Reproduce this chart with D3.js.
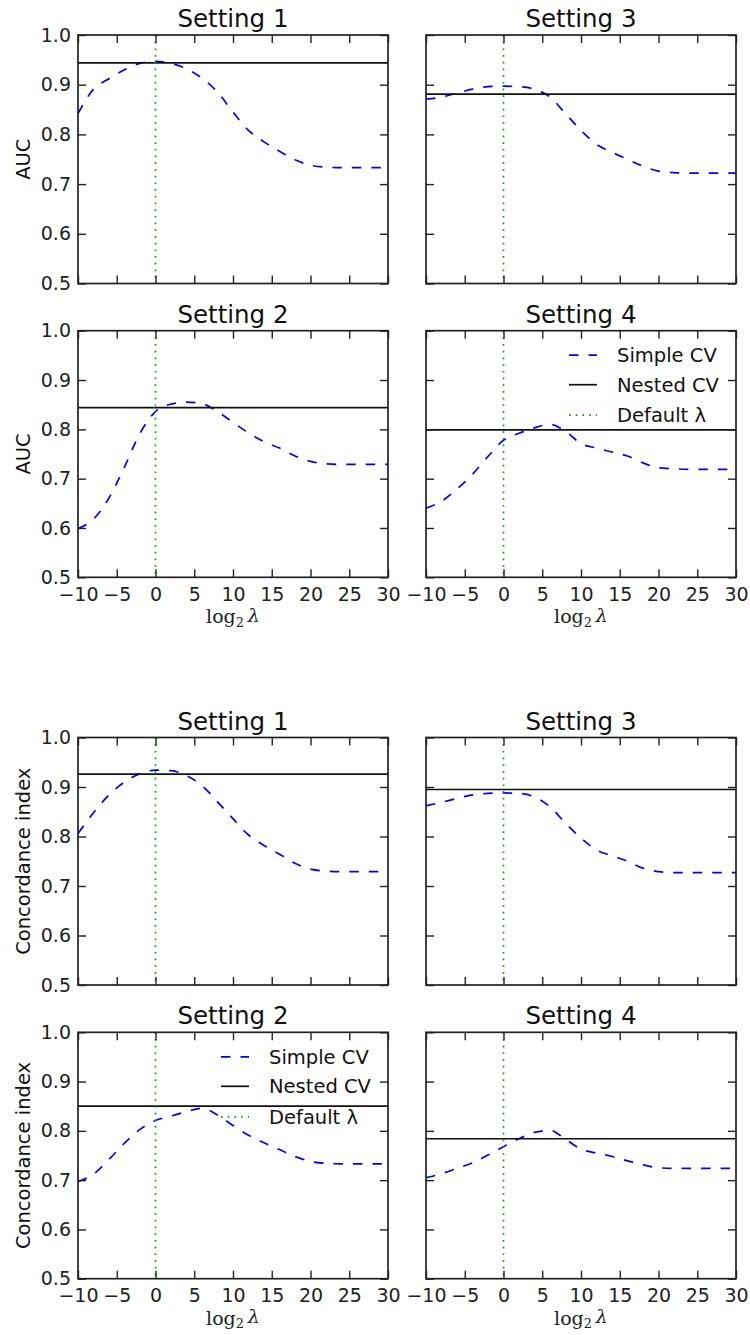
<!DOCTYPE html>
<html><head><meta charset="utf-8">
<script src="https://cdn.jsdelivr.net/npm/d3@7"></script>
<style>body{margin:0;background:#fff}</style>
</head><body>
<svg id="c" width="750" height="1335" xmlns="http://www.w3.org/2000/svg"></svg>
<script>
// ---- data ----
const log2Lambda = [-10,-8,-6,-4,-2,0,2,4,6,8,10,12,14,16,18,20,22,24,26,28,30];
const aucSimple1 = [0.842,0.891,0.912,0.930,0.943,0.947,0.943,0.932,0.913,0.885,0.845,0.808,0.785,0.766,0.749,0.738,0.734,0.733,0.733,0.733,0.733];
const aucSimple2 = [0.599,0.618,0.661,0.724,0.792,0.836,0.851,0.855,0.852,0.836,0.814,0.793,0.775,0.762,0.746,0.735,0.730,0.729,0.729,0.729,0.729];
const aucSimple3 = [0.871,0.875,0.883,0.891,0.896,0.897,0.896,0.891,0.875,0.842,0.808,0.780,0.764,0.750,0.736,0.726,0.723,0.722,0.722,0.722,0.722];
const aucSimple4 = [0.640,0.654,0.679,0.709,0.745,0.778,0.792,0.803,0.810,0.796,0.771,0.762,0.754,0.746,0.732,0.722,0.720,0.719,0.719,0.719,0.719];
const ciSimple1 = [0.806,0.848,0.884,0.910,0.927,0.934,0.933,0.923,0.903,0.870,0.836,0.803,0.782,0.764,0.746,0.734,0.730,0.729,0.729,0.729,0.729];
const ciSimple2 = [0.697,0.712,0.742,0.775,0.803,0.821,0.830,0.839,0.846,0.832,0.811,0.791,0.776,0.762,0.748,0.738,0.734,0.733,0.733,0.733,0.733];
const ciSimple3 = [0.862,0.869,0.877,0.884,0.887,0.888,0.887,0.880,0.860,0.827,0.797,0.773,0.761,0.750,0.736,0.729,0.727,0.727,0.727,0.727,0.727];
const ciSimple4 = [0.705,0.713,0.724,0.735,0.751,0.768,0.784,0.797,0.801,0.783,0.763,0.755,0.748,0.739,0.731,0.725,0.724,0.724,0.724,0.724,0.724];
const aucNested = [0.944,0.844,0.881,0.799];   // settings 1..4
const ciNested  = [0.926,0.850,0.895,0.784];   // settings 1..4
const defaultLog2Lambda = 0;
const xTickValues = [-10,-5,0,5,10,15,20,25,30];
const yTickValues = [0.5,0.6,0.7,0.8,0.9,1.0];
const xDomain = [-10,30];
const yDomain = [0.5,1.0];
const settingTitles = ["Setting 1","Setting 2","Setting 3","Setting 4"];
const legendLabels = ["Simple CV","Nested CV","Default λ"];
const yLabels = ["AUC","Concordance index"];

// ---- layout ----
const cols = [[78,388],[426,736]];
const rows = [[35,283.5],[330.7,577.3],[737.5,985],[1032.3,1278.7]];
const FONT = "DejaVu Sans, sans-serif";
const styles = {
  simple: {stroke:"#0000ff", width:1.7, dash:"9.5,10"},
  nested: {stroke:"#111", width:1.7, dash:null},
  def:    {stroke:"#129a12", width:1.7, dash:"1.7,5"}
};

// panels: group(0 auc,1 ci), setting index, row, col
const panels = [
  {g:0,s:0,r:0,c:0},{g:0,s:2,r:0,c:1},{g:0,s:1,r:1,c:0},{g:0,s:3,r:1,c:1,legend:true},
  {g:1,s:0,r:2,c:0},{g:1,s:2,r:2,c:1},{g:1,s:1,r:3,c:0,legend:true},{g:1,s:3,r:3,c:1}
];
const simpleSeries = [[aucSimple1,aucSimple2,aucSimple3,aucSimple4],[ciSimple1,ciSimple2,ciSimple3,ciSimple4]];
const nestedSeries = [aucNested, ciNested];

const svg = d3.select("#c");
svg.append("rect").attr("width",750).attr("height",1335).attr("fill","#fff");

function applyStyle(sel, st){
  sel.attr("fill","none").attr("stroke",st.stroke).attr("stroke-width",st.width);
  if (st.dash) sel.attr("stroke-dasharray", st.dash);
  return sel;
}

panels.forEach((p,i)=>{
  const [x0,x1] = cols[p.c], [y0,y1] = rows[p.r];
  const x = d3.scaleLinear().domain(xDomain).range([x0,x1]);
  const y = d3.scaleLinear().domain(yDomain).range([y1,y0]);
  const g = svg.append("g");
  const clipId = "clip"+i;
  svg.append("clipPath").attr("id",clipId).append("rect")
    .attr("x",x0).attr("y",y0).attr("width",x1-x0).attr("height",y1-y0);
  const plot = g.append("g").attr("clip-path",`url(#${clipId})`);

  const simple = simpleSeries[p.g][p.s];
  const pts = log2Lambda.map((v,k)=>[v, simple[k]]);
  const line = d3.line().x(d=>x(d[0])).y(d=>y(d[1])).curve(d3.curveMonotoneX);
  applyStyle(plot.append("path").attr("d", line(pts)), styles.simple);

  const nv = nestedSeries[p.g][p.s];
  applyStyle(plot.append("line").attr("x1",x(xDomain[0])).attr("x2",x(xDomain[1]))
    .attr("y1",y(nv)).attr("y2",y(nv)), styles.nested);

  applyStyle(plot.append("line").attr("x1",x(defaultLog2Lambda)).attr("x2",x(defaultLog2Lambda))
    .attr("y1",y(yDomain[1])).attr("y2",y(yDomain[0])), styles.def);

  // axes (inward ticks on all sides)
  const showY = p.c===0, showX = (p.r===1 || p.r===3);
  const axL = d3.axisLeft(y).tickValues(yTickValues).tickSize(-8).tickPadding(7).tickFormat(showY?d3.format(".1f"):"");
  const axR = d3.axisRight(y).tickValues(yTickValues).tickSize(-8).tickFormat("");
  const axB = d3.axisBottom(x).tickValues(xTickValues).tickSize(-8).tickPadding(10).tickFormat(showX?d3.format("d"):"");
  const axT = d3.axisTop(x).tickValues(xTickValues).tickSize(-8).tickFormat("");
  const axes = [
    [axL, `translate(${x0},0)`],[axR, `translate(${x1},0)`],
    [axB, `translate(0,${y1})`],[axT, `translate(0,${y0})`]
  ];
  axes.forEach(([ax,tr])=>{
    const a = g.append("g").attr("transform",tr).call(ax);
    a.select(".domain").remove();
    a.selectAll(".tick line").attr("stroke","#222").attr("stroke-width",1.4);
    a.selectAll(".tick text").attr("fill","#222").style("font-family",FONT).style("font-size","19px");
  });
  g.append("rect").attr("x",x0).attr("y",y0).attr("width",x1-x0).attr("height",y1-y0)
    .attr("fill","none").attr("stroke","#222").attr("stroke-width",1.7);

  // title
  g.append("text").attr("x",(x0+x1)/2).attr("y",y0-8).attr("text-anchor","middle")
    .style("font-family",FONT).style("font-size","24.5px").attr("fill","#111").text(settingTitles[p.s]);

  // y label
  if (showY){
    g.append("text").attr("transform",`translate(22.5,${(y0+y1)/2}) rotate(-90)`)
      .attr("text-anchor","middle").attr("dy","0.36em")
      .style("font-family",FONT).style("font-size","19.5px").attr("fill","#111").text(yLabels[p.g]);
  }
  // x label
  if (showX){
    const t = g.append("text").attr("x",(x0+x1)/2).attr("y",y1+46).attr("text-anchor","middle")
      .style("font-family","DejaVu Serif, serif").style("font-size","19px").attr("fill","#222");
    t.append("tspan").text("log");
    t.append("tspan").attr("dy","0.28em").style("font-size","13px").text("2");
    t.append("tspan").attr("dy","-0.28em").style("font-style","italic").text("\u2009λ");
  }
  // legend
  if (p.legend){
    const kinds = ["simple","nested","def"];
    const offs = [24.5,54,84.5];
    kinds.forEach((k,j)=>{
      const yy = y0+offs[j];
      applyStyle(g.append("line").attr("x1",x1-167).attr("x2",x1-139).attr("y1",yy).attr("y2",yy), styles[k]);
      g.append("text").attr("x",x1-119).attr("y",yy).attr("dy","0.35em")
        .style("font-family",FONT).style("font-size","19.5px").attr("fill","#111").text(legendLabels[j]);
    });
  }
});
</script>
</body></html>
